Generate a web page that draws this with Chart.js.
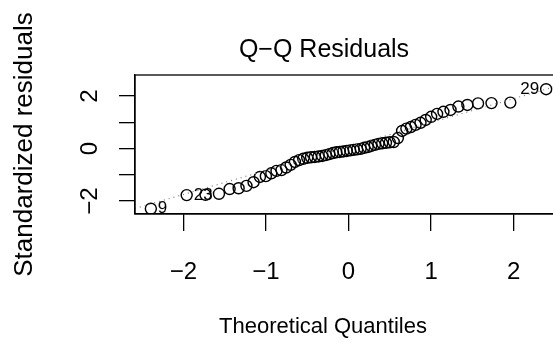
<!DOCTYPE html>
<html>
<head>
<meta charset="utf-8">
<script src="https://cdn.jsdelivr.net/npm/chart.js@4.4.1/dist/chart.umd.min.js"></script>
<style>
  html, body { margin: 0; padding: 0; background: #fff; }
  #wrap { width: 553px; height: 344px; overflow: hidden; position: relative; }
</style>
</head>
<body>
<div id="wrap">
  <canvas id="qqChart" width="575" height="344"></canvas>
</div>
<script>
// Q-Q plot of standardized residuals (60 obs)

// theoretical quantiles (x)
const theoQuantiles = [
  -2.394, -1.960, -1.732, -1.569, -1.440, -1.331, -1.236, -1.150, -1.073, -1.001,
  -0.935, -0.872, -0.812, -0.755, -0.701, -0.649, -0.598, -0.548, -0.500, -0.454,
  -0.408, -0.363, -0.319, -0.275, -0.232, -0.189, -0.147, -0.105, -0.063, -0.021,
  0.021, 0.063, 0.105, 0.147, 0.189, 0.232, 0.275, 0.319, 0.363, 0.408,
  0.454, 0.500, 0.548, 0.598, 0.649, 0.701, 0.755, 0.812, 0.872, 0.935,
  1.001, 1.073, 1.150, 1.236, 1.331, 1.440, 1.569, 1.732, 1.960, 2.394,
];

// sorted standardized residuals (y)
const stdResiduals = [
  -2.29, -1.77, -1.76, -1.72, -1.54, -1.51, -1.42, -1.28, -1.08, -1.05,
  -0.94, -0.85, -0.82, -0.72, -0.62, -0.51, -0.44, -0.39, -0.35, -0.33,
  -0.32, -0.30, -0.28, -0.25, -0.21, -0.17, -0.14, -0.13, -0.11, -0.09,
  -0.07, -0.05, -0.03, -0.01, 0.03, 0.06, 0.10, 0.14, 0.18, 0.20,
  0.22, 0.24, 0.25, 0.40, 0.67, 0.76, 0.82, 0.90, 0.98, 1.09,
  1.21, 1.32, 1.40, 1.47, 1.60, 1.66, 1.72, 1.73, 1.75, 2.26,
];

// labelled extreme points: observation id, rank in sorted data, side
const pointIds = ["9", "23", "29"];
const pointRanks = [0, 1, 59];
const pointSides = ["right", "right", "left"];

// axes
const xTicks = [-2, -1, 0, 1, 2];
const xTickLabels = ["\u22122", "\u22121", "0", "1", "2"];
const yTicks = [-2, -1, 0, 1, 2];
const yTickLabels = ["\u22122", "", "0", "", "2"];
const xRange = [-2.586, 2.586];
const yRange = [-2.49, 2.8];

const FONT = "'Liberation Sans', Arial, Helvetica, sans-serif";
const TICK_SIZE = 24;

// qqline through the quartiles (R type 7 quantile)
function quantile(sorted, p) {
  const h = (sorted.length - 1) * p;
  const lo = Math.floor(h);
  return sorted[lo] + (h - lo) * (sorted[lo + 1] - sorted[lo]);
}
const q1y = quantile(stdResiduals, 0.25);
const q3y = quantile(stdResiduals, 0.75);
const qTheo = 0.6745;
const slope = (q3y - q1y) / (2 * qTheo);
const intercept = q1y + slope * qTheo;

const points = theoQuantiles.map((x, i) => ({ x: x, y: stdResiduals[i] }));
const qqLine = xRange.map((x) => ({ x: x, y: intercept + slope * x }));

// box, rotated y labels, titles, point ids
const rDecor = {
  id: "rDecor",
  afterDraw(chart) {
    const ctx = chart.ctx;
    const a = chart.chartArea;
    const ys = chart.scales.y;
    const xs = chart.scales.x;
    ctx.save();
    ctx.strokeStyle = "#000";
    ctx.lineWidth = 1.3;
    ctx.strokeRect(a.left, a.top, a.right - a.left, a.bottom - a.top);

    ctx.fillStyle = "#000";
    ctx.textAlign = "center";
    ctx.textBaseline = "middle";

    // y tick labels, parallel to the axis
    ctx.font = TICK_SIZE + "px " + FONT;
    yTicks.forEach((v, i) => {
      if (!yTickLabels[i]) return;
      ctx.save();
      ctx.translate(90, ys.getPixelForValue(v));
      ctx.rotate(-Math.PI / 2);
      ctx.fillText(yTickLabels[i], 0, 0);
      ctx.restore();
    });

    // title and axis titles
    ctx.font = "25px " + FONT;
    ctx.fillText("Q\u2212Q Residuals", 324, 50);
    ctx.font = "22px " + FONT;
    ctx.fillText("Theoretical Quantiles", 323, 327);
    ctx.save();
    ctx.translate(25, (a.top + a.bottom) / 2);
    ctx.rotate(-Math.PI / 2);
    ctx.font = "26px " + FONT;
    ctx.fillText("Standardized residuals", 0, 0);
    ctx.restore();

    // ids of extreme points
    ctx.font = "17px " + FONT;
    pointIds.forEach((id, k) => {
      const r = pointRanks[k];
      const px = xs.getPixelForValue(theoQuantiles[r]);
      const py = ys.getPixelForValue(stdResiduals[r]);
      if (pointSides[k] === "right") {
        ctx.textAlign = "left";
        ctx.fillText(id, px + 7, py);
      } else {
        ctx.textAlign = "right";
        ctx.fillText(id, px - 7, py);
      }
    });
    ctx.restore();
  },
};

const ctx = document.getElementById("qqChart").getContext("2d");

new Chart(ctx, {
  type: "scatter",
  data: {
    datasets: [
      {
        label: "qqline",
        type: "line",
        data: qqLine,
        borderColor: "#7f7f7f",
        borderWidth: 1.2,
        borderDash: [1, 4],
        pointRadius: 0,
        fill: false,
      },
      {
        label: "residuals",
        data: points,
        pointStyle: "circle",
        pointRadius: 5.5,
        pointBorderWidth: 1.4,
        pointBackgroundColor: "rgba(0,0,0,0)",
        pointBorderColor: "#000",
      },
    ],
  },
  options: {
    responsive: false,
    animation: false,
    devicePixelRatio: 1,
    layout: {
      padding: { left: 0, right: 13, top: 75, bottom: 0 },
    },
    plugins: {
      legend: { display: false },
      tooltip: { enabled: false },
      title: { display: false },
    },
    scales: {
      x: {
        type: "linear",
        min: xRange[0],
        max: xRange[1],
        afterBuildTicks: (scale) => {
          scale.ticks = xTicks.map((v) => ({ value: v }));
        },
        afterFit: (scale) => {
          scale.height = 130;
        },
        ticks: {
          color: "#000",
          font: { family: FONT, size: TICK_SIZE },
          padding: 27,
          maxRotation: 0,
          callback: (v) => xTickLabels[xTicks.indexOf(v)],
        },
        grid: {
          drawOnChartArea: false,
          drawTicks: true,
          tickLength: 17,
          color: "#000",
          lineWidth: 1.3,
        },
        border: { display: true, color: "#000", width: 1.3 },
      },
      y: {
        type: "linear",
        min: yRange[0],
        max: yRange[1],
        afterBuildTicks: (scale) => {
          scale.ticks = yTicks.map((v) => ({ value: v }));
        },
        afterFit: (scale) => {
          scale.width = 135;
        },
        ticks: {
          callback: () => "",
        },
        grid: {
          drawOnChartArea: false,
          drawTicks: true,
          tickLength: 16,
          color: "#000",
          lineWidth: 1.3,
        },
        border: { display: true, color: "#000", width: 1.3 },
      },
    },
  },
  plugins: [rDecor],
});
</script>
</body>
</html>
